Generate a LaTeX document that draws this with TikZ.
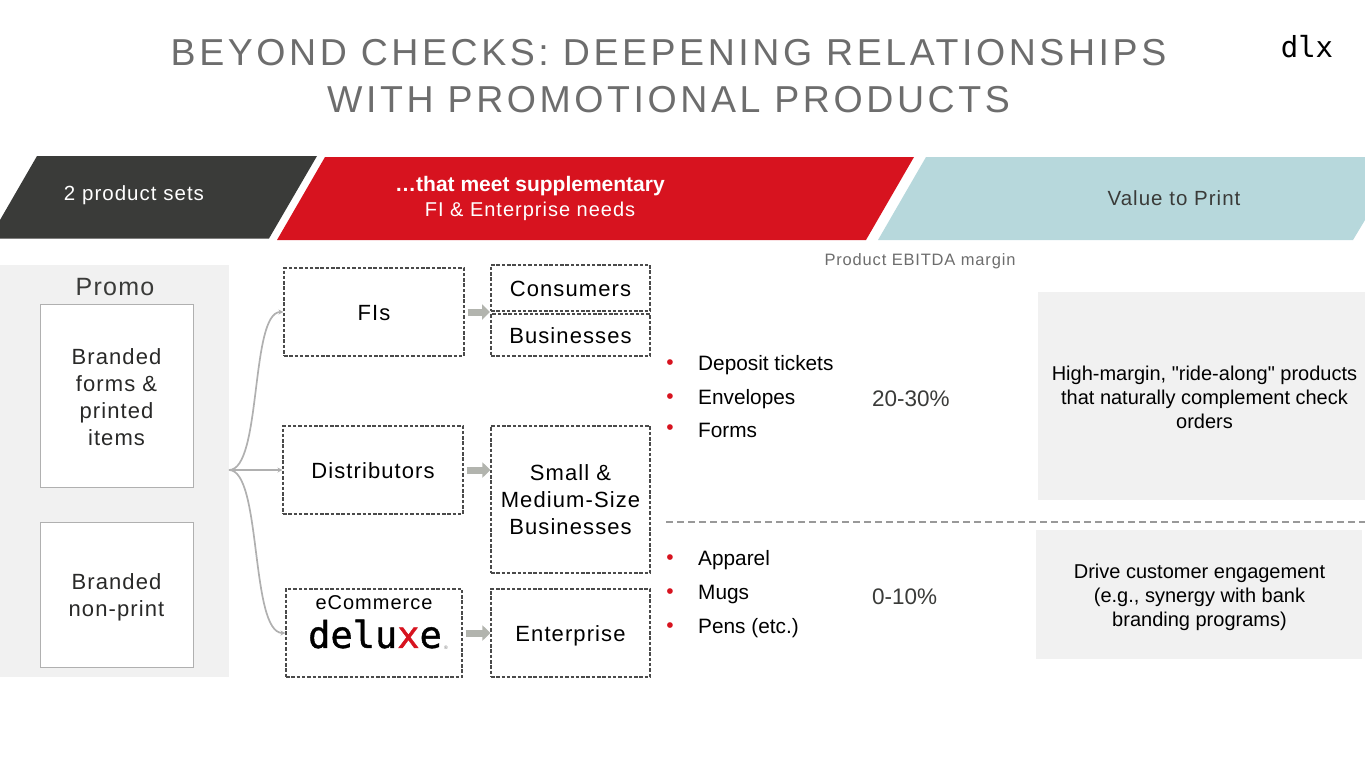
\documentclass[tikz,border=0pt]{standalone}
\usepackage{fontspec}
\usepackage{xcolor}
\usetikzlibrary{arrows.meta}
\setmainfont{Liberation Sans}
\newfontfamily\spacedfont[LetterSpace=5]{Liberation Sans}
\newfontfamily\titlefont[LetterSpace=9.5]{Liberation Sans}
\newfontfamily\logofont{DejaVu Sans Mono}
\newfontfamily\deluxefont[FakeBold=1.2]{DejaVu Sans Mono}
\newfontfamily\plainfont[Ligatures=NoCommon]{Liberation Sans}
\definecolor{barDark}{HTML}{3A3B39}
\definecolor{barRed}{HTML}{D7131F}
\definecolor{barTeal}{HTML}{B7D8DC}
\definecolor{panelGray}{HTML}{F1F1F1}
\definecolor{titleGray}{HTML}{6D6D6D}
\definecolor{lineGray}{HTML}{B0B0B0}
\definecolor{dashGray}{HTML}{4A4A4A}
\definecolor{arrowGray}{HTML}{B2B4AE}
\tikzset{
  solidbox/.style={draw=lineGray, fill=white, line width=1pt, inner sep=0pt},
  dashbox/.style={draw=dashGray, fill=white, dash pattern=on 3.5pt off 1.8pt, line width=1.1pt, inner sep=0pt},
  boxlabel/.style={align=center, inner sep=0pt, text=black, font=\fontsize{22}{27}\spacedfont},
  valuelabel/.style={align=center, inner sep=0pt, text=black, font=\fontsize{20}{24}\plainfont},
  blockarrow/.style={draw=arrowGray, line width=7pt, -{Triangle[length=8pt,width=15pt]}},
  forkline/.style={draw=lineGray, line width=1.7pt, -{Stealth[length=5pt,width=5pt]}},
  listitem/.style={anchor=west, inner sep=0pt, text=black, font=\fontsize{20.8}{25}\selectfont},
  listdot/.style={inner sep=0pt, text=barRed, font=\fontsize{21}{25}\selectfont},
}
\begin{document}
\begin{tikzpicture}[x=1pt, y=-1pt]
  \useasboundingbox (0,0) rectangle (1365,768);
  %Titulo
  \node[align=center, text=titleGray, font=\fontsize{37.5}{46.5}\titlefont] (title) at (668.5,76) {BEYOND CHECKS: DEEPENING RELATIONSHIPS\\WITH PROMOTIONAL PRODUCTS};
  \node[font=\fontsize{29}{34}\logofont, text=black, inner sep=0pt] (dlx) at (1307,47) {dlx};

  %Barras
  \fill[barDark] (37,156)--(317,156)--(269,238.5)--(0,238.5)--(0,220)--cycle;
  \fill[barRed] (325,157)--(914,157)--(866,240)--(277,240)--cycle;
  \fill[barTeal] (926,157)--(1365,157)--(1365,220)--(1353,240)--(878,240)--cycle;
  \node[text=white, font=\fontsize{20.5}{25}\spacedfont] (sets) at (134,195.5) {2 product sets};
  \node[text=white, align=center, font=\fontsize{20}{25}\spacedfont] (needs) at (530,198) {{\normalfont\bfseries\fontsize{21}{25}\selectfont …that meet supplementary}\\FI \& Enterprise needs};
  \node[text=barDark, font=\fontsize{20.5}{25}\spacedfont] (value) at (1174,198.5) {Value to Print};
  \node[text=titleGray, font=\fontsize{16.5}{21}\spacedfont] (margin) at (920,261) {Product EBITDA margin};

  %Promo
  \fill[panelGray] (0,265) rectangle (228.5,677);
  \node[text=barDark, font=\fontsize{25}{30}\spacedfont] (promo) at (115,287.5) {Promo};
  \node[solidbox, minimum width=153, minimum height=183] (forms) at (116.5,396) {};
  \node[boxlabel, text=barDark!70!black] (formslabel) at (116.5,397.5) {Branded\\forms \&\\printed\\items};
  \node[solidbox, minimum width=153, minimum height=145] (nonprint) at (116.5,594.5) {};
  \node[boxlabel, text=barDark!70!black] (nonprintlabel) at (116.5,597) {Branded\\non-print};

  %Canales
  \node[dashbox, minimum width=180, minimum height=88] (fis) at (374,312) {};
  \node[boxlabel] (fislabel) at (374,313) {FIs};
  \node[dashbox, minimum width=180, minimum height=88] (distributors) at (373,470) {};
  \node[boxlabel] (distributorslabel) at (373,471) {Distributors};
  \node[dashbox, minimum width=176, minimum height=88] (ecommerce) at (374,633) {};
  \node[font=\fontsize{20}{24}\spacedfont, text=black, inner sep=0pt] (ecomlabel) at (374,603) {eCommerce};
  \node[font=\fontsize{37}{44}\deluxefont, text=black, inner sep=0pt] (deluxe) at (375,634) {delu{\color{barRed}x}e};
  \node[font=\fontsize{5}{6}\selectfont, text=titleGray, inner sep=0pt] (reg) at (446,648) {®};

  %Clientes
  \node[dashbox, minimum width=159, minimum height=46] (consumers) at (570.5,288) {};
  \node[boxlabel] (consumerslabel) at (570.5,289) {Consumers};
  \node[dashbox, minimum width=159, minimum height=42] (businesses) at (570.5,335) {};
  \node[boxlabel] (businesseslabel) at (570.5,336) {Businesses};
  \node[dashbox, minimum width=159, minimum height=147] (smb) at (570.5,499.5) {};
  \node[boxlabel] (smblabel) at (570.5,500) {Small \&\\Medium-Size\\Businesses};
  \node[dashbox, minimum width=159, minimum height=88] (enterprise) at (570.5,633) {};
  \node[boxlabel] (enterpriselabel) at (570.5,636) {Enterprise};

  %Flechas
  \coordinate (fork) at (229,470);
  \coordinate (fisout) at (490,312);
  \draw[forkline] (fork) .. controls (262,470) and (250,312) .. (fis.west);
  \draw[forkline] (fork) -- (distributors.west);
  \draw[forkline] (fork) .. controls (262,470) and (250,633) .. (ecommerce.west);
  \draw[blockarrow] ([xshift=3pt]fis.east|-fisout) -- (fisout);
  \draw[blockarrow] ([xshift=3pt]distributors.east) -- (smb.west|-distributors.east);
  \draw[blockarrow] ([xshift=3pt]ecommerce.east) -- (enterprise.west);

  %Listas
  \foreach \ypos/\name/\item in {365/deposit/Deposit tickets, 399/envelopes/Envelopes, 430/formsitem/Forms, 560/apparel/Apparel, 594/mugs/Mugs, 628/pens/Pens (etc.)}{
    \node[listdot] (dot\name) at (670,\ypos) {•};
    \node[listitem] (\name) at (698,\ypos) {\item};
  }
  \node[listitem, text=barDark, font=\fontsize{22.5}{27}\selectfont] (highrange) at (872,399) {20-30\%};
  \node[listitem, text=barDark, font=\fontsize{22.5}{27}\selectfont] (lowrange) at (872,597) {0-10\%};

  %Separador
  \coordinate (sepleft) at (666,522);
  \coordinate (sepright) at (1365,522);
  \draw[titleGray!70, line width=1.3pt, dash pattern=on 7pt off 4pt] (sepleft)--(sepright);

  %Valor
  \fill[panelGray] (1038,292) rectangle (1365,500);
  \node[valuelabel] (ridealong) at (1204.5,397) {High-margin, "ride-along" products\\that naturally complement check\\orders};
  \fill[panelGray] (1036,530) rectangle (1362,659);
  \node[valuelabel] (engagement) at (1199.5,597.5) {Drive customer engagement\\(e.g., synergy with bank\\branding programs)};
\end{tikzpicture}
\end{document}
